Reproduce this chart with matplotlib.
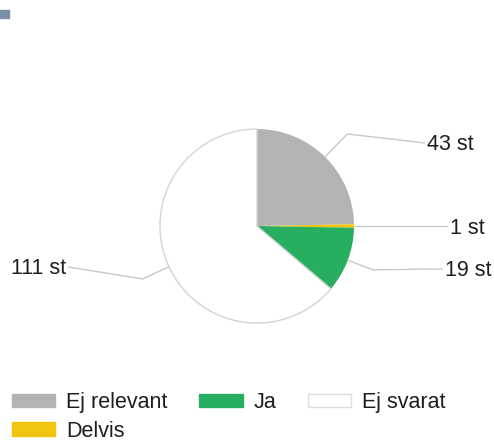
import numpy as np
import matplotlib.pyplot as plt
import matplotlib.patches as mpatches

# data
categories = ["Ej relevant", "Delvis", "Ja", "Ej svarat"]
values = [43, 1, 19, 111]
colors = ["#b3b3b3", "#f1c40f", "#27ae60", "#ffffff"]
legend_order = ["Ej relevant", "Delvis", "Ja", "Ej svarat"]

plt.rcParams['font.family'] = ['Liberation Sans', 'DejaVu Sans']

W, H = 494, 441
fig = plt.figure(figsize=(W / 100, H / 100), dpi=100)
ax = fig.add_axes([0, 0, 1, 1])

cx, cy, r = 257, H - 226, 97
wedges, _ = ax.pie(values, colors=colors, startangle=90, counterclock=False,
                   center=(cx, cy), radius=r, frame=True,
                   wedgeprops=dict(linewidth=0))
wedges[3].set_edgecolor('#d4d4d4')
wedges[3].set_linewidth(1.0)
ax.set_xlim(0, W)
ax.set_ylim(0, H)
ax.set_aspect('equal')
ax.axis('off')

# leader lines and labels
line_col = '#c8c8c8'
fs = 15.5
# (elbow radius factor, end x, end y offset from elbow, text side)
layout = {
    0: (1.33, 425, 9, 'left'),
    1: (None, 448, 0, 'left'),
    2: (1.28, 443, -1, 'left'),
    3: (1.30, 68, -12, 'right'),
}
total = sum(values)
acc = 0
for i, v in enumerate(values):
    mid = np.deg2rad(90 - (acc + v / 2) / total * 360)
    acc += v
    ex, ey = cx + r * np.cos(mid), cy + r * np.sin(mid)
    f, tx, dy, side = layout[i]
    if f is None:
        xs = [ex, tx]
        ys = [ey, ey]
    else:
        bx, by = cx + r * f * np.cos(mid), cy + r * f * np.sin(mid)
        xs = [ex, bx, tx]
        ys = [ey, by, by - dy]
    ax.plot(xs, ys, color=line_col, lw=1.0, solid_capstyle='butt')
    off = 2 if side == 'left' else -2
    ax.text(xs[-1] + off, ys[-1] - 2, f"{v} st", ha=side, va='center',
            fontsize=fs, color='#1e1e1e')

# small header mark top-left
fig.patches.append(mpatches.Rectangle((0, 1 - 18 / H), 9 / W, 8 / H,
                                      transform=fig.transFigure,
                                      color='#7d90a3'))

# legend
handles = []
for name in legend_order:
    c = colors[categories.index(name)]
    ec = '#dddddd' if c == '#ffffff' else c
    handles.append(mpatches.Patch(facecolor=c, edgecolor=ec, label=name))
fig.legend(handles=handles, ncol=3, loc='upper left',
           bbox_to_anchor=(12 / W, 1 - 392 / H), frameon=False,
           fontsize=fs, handlelength=2.0, handleheight=0.6,
           handletextpad=0.5, columnspacing=1.5, labelspacing=0.35,
           borderpad=0, borderaxespad=0, labelcolor='#1e1e1e')

fig.savefig('out.png', dpi=100)
